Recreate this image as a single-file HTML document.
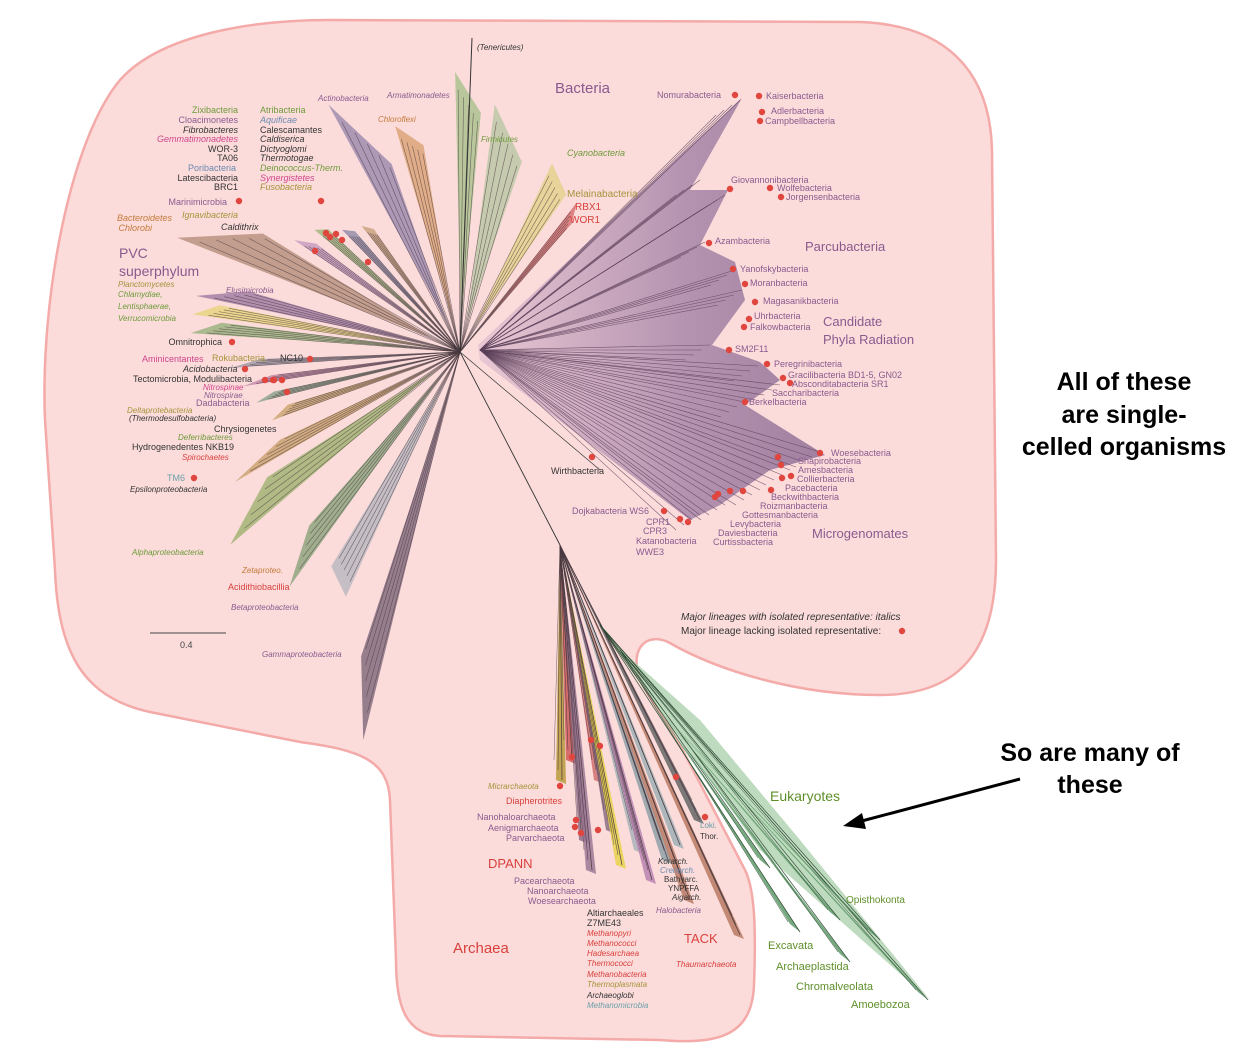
<!DOCTYPE html>
<html><head><meta charset="utf-8"><style>
html,body{margin:0;padding:0;background:#fff;}
svg text{font-family:"Liberation Sans",sans-serif;}
</style></head><body>
<svg id="tree" width="1248" height="1055" viewBox="0 0 1248 1055" xmlns="http://www.w3.org/2000/svg">
<defs>
<linearGradient id="cprGrad" x1="0" y1="0" x2="1" y2="0">
<stop offset="0" stop-color="#e8c6d3"/><stop offset="0.6" stop-color="#b08fae"/><stop offset="1" stop-color="#9c7b9c"/>
</linearGradient>
</defs>
<path d="M120,80 C160,35 250,20 330,20 L860,22 C945,25 990,70 992,150 L996,560 C996,650 960,695 880,695 C800,695 720,672 668,642 C645,632 632,650 638,672 C642,690 660,710 680,745 L745,870 C755,890 756,930 754,985 C752,1035 720,1045 660,1040 L440,1036 C405,1034 396,1005 396,960 L390,800 C388,760 360,750 300,742 L150,712 C85,698 58,655 55,570 L45,420 C40,300 70,140 120,80 Z" fill="#fbdcdb" stroke="#f3aaa8" stroke-width="2.5"/>
<g id="marks"></g>
<g id="labels"></g>
<g font-weight="bold" font-size="25" fill="#000" text-anchor="middle">
<text x="1124" y="390">All of these</text>
<text x="1124" y="423">are single-</text>
<text x="1124" y="455">celled organisms</text>
<text x="1090" y="761">So are many of</text>
<text x="1090" y="793">these</text>
</g>
<g>
<line x1="1020" y1="779" x2="858" y2="822" stroke="#000" stroke-width="3"/>
<polygon points="843,826 862,813 866,829" fill="#000"/>
</g>
<g>
<line x1="150" y1="633" x2="226" y2="633" stroke="#444" stroke-width="1"/>
<text x="180" y="648" font-size="9" fill="#444">0.4</text>
</g>
</svg>
<script>
const wedgeAngles1=[-118,-106,-91,-82,-64,-52,-158,-168,-172,-176,150,140,115,104,126,-146,-140,-134,-128,176,171,166,160];
const wedgeAngles2=[-110,-100,-85,-72,-56,-49,-149,-164,-169,-173,154,147,121,108,131,-143,-137,-131,-125,178,173,168,163];
const wedgeLen1=[280,235,280,250,210,190,305,270,270,270,260,300,270,400,290,200,190,170,160,230,220,210,200];
const wedgeLen2=[200,210,240,200,190,170,230,220,245,240,200,230,250,320,230,180,180,160,150,200,190,190,180];
const wedgeColors=["#9a87ac","#d9a173","#a9c08b","#b9c6a3","#e4d28a","#d66b6b","#b58f7a","#a07aa2","#e8d37a","#97b07a","#c9a06a","#9fb26f","#b8b8bf","#7e6679","#8aa37a","#c79ac0","#a0b57d","#8e89a8","#c7a07a","#9f99a5","#c184a8","#8aa08a","#c9a36d"];
const C=[460,352];
const g=document.getElementById('marks');
const NS="http://www.w3.org/2000/svg";
function pt(a,r){const t=a*Math.PI/180;return [C[0]+r*Math.cos(t),C[1]+r*Math.sin(t)];}
function poly(points,fill,name,op){
  const el=document.createElementNS(NS,'polygon');
  el.setAttribute('points',points.map(p=>p.join(',')).join(' '));
  el.setAttribute('fill',fill);el.setAttribute('opacity',op||'1');
  
  
  g.appendChild(el);
}
function line(x1,y1,x2,y2,c,w,op){
  const ln=document.createElementNS(NS,'line');
  ln.setAttribute('x1',x1);ln.setAttribute('y1',y1);ln.setAttribute('x2',x2);ln.setAttribute('y2',y2);
  ln.setAttribute('stroke',c);ln.setAttribute('stroke-width',w);
  if(op)ln.setAttribute('opacity',op);
  
  
  g.appendChild(ln);
}
for(let i=0;i<wedgeAngles1.length;i++){
  const p0=pt((wedgeAngles1[i]+wedgeAngles2[i])/2,30);
  const p1=pt(wedgeAngles1[i],wedgeLen1[i]);
  const p2=pt(wedgeAngles2[i],wedgeLen2[i]);
  poly([p0,p1,p2],wedgeColors[i],'clade-wedge',0.8);
  for(let k=0;k<5;k++){
    const a=wedgeAngles1[i]+(wedgeAngles2[i]-wedgeAngles1[i])*(k+0.5)/5;
    const r=wedgeLen1[i]+(wedgeLen2[i]-wedgeLen1[i])*(k+0.5)/5;
    const q=pt(a,r*0.95);
    line(C[0],C[1],q[0],q[1],'#4a3a40',0.6,0.7);
  }
}
const cprPoly=[[478,345],[742,98],[690,190],[728,190],[700,245],[735,262],[745,300],[712,345],[760,362],[780,380],[745,405],[825,455],[770,470],[720,505],[690,520],[480,360]];
poly(cprPoly,"url(#cprGrad)","cpr-fan",0.95);
const cprTips=[[740,100],[700,180],[725,195],[705,242],[735,270],[742,290],[710,345],[758,366],[780,385],[745,402],[820,452],[790,470],[760,490],[725,505],[700,515]];
cprTips.forEach(t=>{for(let k=0;k<4;k++){line(480,350,t[0]-k*8,t[1]+k*5,"#5a3e58",0.6,0.8);}});
line(460,352,472,38,"#333",1);
line(460,352,560,545,"#333",0.9);
line(460,352,600,470,"#333",0.7);
const archTips=[[562,780],[572,760],[585,840],[592,870],[600,780],[612,830],[622,865],[640,850],[652,880],[668,860],[680,845],[690,900],[700,820],[740,935]];
const archColors=["#b99a3a","#d05a5a","#8f6f8a","#9c7895","#d07070","#8b6e80","#e8d24a","#a9b3b8","#b883b0","#8fa0a8","#9fb0b5","#b87a65","#666","#b87a62"];
for(let i=0;i<archTips.length;i++){
  const t=archTips[i];
  poly([[560,545],[t[0]-6,t[1]],[t[0]+4,t[1]+4]],archColors[i],"archaea-clade",0.85);
  line(560,545,t[0],t[1],"#4a3a40",0.7);
  line(560,545,t[0]-4,t[1]-10,"#4a3a40",0.5);
  line(560,545,t[0]-8,t[1]-20,"#4a3a40",0.4);
}
poly([[610,640],[760,850],[930,1000],[800,840],[700,720]],"#a9cfa9","eukaryote-fan",0.75);
const eukTips=[[770,868],[800,932],[850,962],[928,1000],[880,940],[840,920]];
eukTips.forEach(t=>{poly([[650,700],[t[0]-10,t[1]-8],[t[0],t[1]]],"#5f9a6a","eukaryote-clade",0.85);line(600,625,t[0],t[1],"#2e4a34",0.7);line(620,650,t[0]-12,t[1]-10,"#2e4a34",0.5);});
const dotX=[735,759,762,760,730,770,781,709,733,745,755,749,744,729,767,783,790,745,820,778,781,791,782,771,743,730,718,715,664,680,688,592,239,321,326,336,330,342,315,368,232,245,310,273,265,274,282,287,194,560,572,576,581,575,598,591,600,676,705,902];
const dotY=[95,96,112,121,189,188,197,243,269,284,302,319,327,350,364,378,383,402,453,457,465,476,478,490,491,491,494,497,511,519,522,457,201,201,233,234,237,240,251,262,342,369,359,380,380,380,380,392,478,786,757,820,833,827,830,740,746,777,817,631];
for(let i=0;i<dotX.length;i++){
  const c=document.createElementNS(NS,'circle');
  c.setAttribute('cx',dotX[i]);c.setAttribute('cy',dotY[i]);c.setAttribute('r',3.2);c.setAttribute('fill','#e0453e');
  
  
  g.appendChild(c);
}
const P="#8a5a8e",R="#d9403c",O="#a6933a",D="#333",G="#6e9a3a",Or="#c47a3a",Pk="#d0458a",B="#6a8ab0",T="#6aa0a8",EU="#5f8f2a";
const labels=[
[238,113,"Zixibacteria",G,"",9,"end"],[238,123,"Cloacimonetes",P,"",9,"end"],[238,133,"Fibrobacteres",D,"i",9,"end"],[238,142,"Gemmatimonadetes",Pk,"i",9,"end"],[238,152,"WOR-3",D,"",9,"end"],[238,161,"TA06",D,"",9,"end"],[236,171,"Poribacteria",B,"",9,"end"],[238,181,"Latescibacteria",D,"",9,"end"],[238,190,"BRC1",D,"",9,"end"],
[260,113,"Atribacteria",G,"",9,""],[260,123,"Aquificae",B,"i",9,""],[260,133,"Calescamantes",D,"",9,""],[260,142,"Caldiserica",D,"i",9,""],[260,152,"Dictyoglomi",D,"i",9,""],[260,161,"Thermotogae",D,"i",9,""],[260,171,"Deinococcus-Therm.",G,"i",9,""],[260,181,"Synergistetes",Pk,"i",9,""],[260,190,"Fusobacteria",O,"i",9,""],
[227,205,"Marinimicrobia",P,"",9,"end"],[238,218,"Ignavibacteria",O,"i",9,"end"],[172,221,"Bacteroidetes",Or,"i",9,"end"],[152,231,"Chlorobi",Or,"i",9,"end"],[221,230,"Caldithrix",D,"i",9,""],
[119,258,"PVC",P,"",14,""],[119,276,"superphylum",P,"",14,""],
[118,287,"Planctomycetes",O,"i",8,""],[118,297,"Chlamydiae,",G,"i",8,""],[118,309,"Lentisphaerae,",G,"i",8,""],[118,321,"Verrucomicrobia",G,"i",8,""],[226,293,"Elusimicrobia",P,"i",8,""],
[222,345,"Omnitrophica",D,"",9,"end"],[142,362,"Aminicentantes",Pk,"",9,""],[212,361,"Rokubacteria",O,"",9,""],[280,361,"NC10",D,"",9,""],[183,372,"Acidobacteria",D,"i",9,""],[133,382,"Tectomicrobia, Modulibacteria",D,"",9,""],[203,390,"Nitrospinae",Pk,"i",8,""],[204,398,"Nitrospirae",P,"i",8,""],[196,406,"Dadabacteria",P,"",9,""],[127,413,"Deltaprotebacteria",O,"i",8,""],[129,421,"(Thermodesulfobacteria)",D,"i",8,""],[214,432,"Chrysiogenetes",D,"",9,""],[178,440,"Deferribacteres",G,"i",8,""],[132,450,"Hydrogenedentes NKB19",D,"",9,""],[182,460,"Spirochaetes",R,"i",8,""],[167,481,"TM6",T,"",9,""],[130,492,"Epsilonproteobacteria",D,"i",8,""],[132,555,"Alphaproteobacteria",G,"i",8,""],[242,573,"Zetaproteo.",Or,"i",8,""],[228,590,"Acidithiobacillia",R,"",9,""],[231,610,"Betaproteobacteria",P,"i",8,""],[262,657,"Gammaproteobacteria",P,"i",8,""],
[318,101,"Actinobacteria",P,"i",8,""],[387,98,"Armatimonadetes",P,"i",8,""],[378,122,"Chloroflexi",Or,"i",8,""],[477,50,"(Tenericutes)",D,"i",8,""],[481,142,"Firmicutes",G,"i",8,""],[555,93,"Bacteria",P,"",15,""],[567,156,"Cyanobacteria",G,"i",9,""],[567,197,"Melainabacteria",O,"",10,""],[575,210,"RBX1",R,"",10,""],[570,223,"WOR1",R,"",10,""],
[657,98,"Nomurabacteria",P,"",9,""],[766,99,"Kaiserbacteria",P,"",9,""],[771,114,"Adlerbacteria",P,"",9,""],[765,124,"Campbellbacteria",P,"",9,""],[731,183,"Giovannonibacteria",P,"",9,""],[777,191,"Wolfebacteria",P,"",9,""],[786,200,"Jorgensenbacteria",P,"",9,""],[715,244,"Azambacteria",P,"",9,""],[805,251,"Parcubacteria",P,"",13,""],[740,272,"Yanofskybacteria",P,"",9,""],[750,286,"Moranbacteria",P,"",9,""],[763,304,"Magasanikbacteria",P,"",9,""],[754,319,"Uhrbacteria",P,"",9,""],[750,330,"Falkowbacteria",P,"",9,""],[823,326,"Candidate",P,"",13,""],[823,344,"Phyla Radiation",P,"",13,""],[735,352,"SM2F11",P,"",9,""],[774,367,"Peregrinibacteria",P,"",9,""],[788,378,"Gracilibacteria BD1-5, GN02",P,"",9,""],[792,387,"Absconditabacteria SR1",P,"",9,""],[772,396,"Saccharibacteria",P,"",9,""],[749,405,"Berkelbacteria",P,"",9,""],
[831,456,"Woesebacteria",P,"",9,""],[798,464,"Shapirobacteria",P,"",9,""],[798,473,"Amesbacteria",P,"",9,""],[797,482,"Collierbacteria",P,"",9,""],[785,491,"Pacebacteria",P,"",9,""],[771,500,"Beckwithbacteria",P,"",9,""],[760,509,"Roizmanbacteria",P,"",9,""],[742,518,"Gottesmanbacteria",P,"",9,""],[730,527,"Levybacteria",P,"",9,""],[718,536,"Daviesbacteria",P,"",9,""],[713,545,"Curtissbacteria",P,"",9,""],[812,538,"Microgenomates",P,"",13,""],[551,474,"Wirthbacteria",D,"",9,""],[572,514,"Dojkabacteria WS6",P,"",9,""],[646,525,"CPR1",P,"",9,""],[643,534,"CPR3",P,"",9,""],[636,544,"Katanobacteria",P,"",9,""],[636,555,"WWE3",P,"",9,""],
[681,620,"Major lineages with isolated representative: italics",D,"i",10,""],[681,634,"Major lineage lacking isolated representative:",D,"",10,""],
[488,789,"Micrarchaeota",O,"i",8,""],[506,804,"Diapherotrites",R,"",9,""],[477,820,"Nanohaloarchaeota",P,"",9,""],[488,831,"Aenigmarchaeota",P,"",9,""],[506,841,"Parvarchaeota",P,"",9,""],[488,868,"DPANN",R,"",13,""],[514,884,"Pacearchaeota",P,"",9,""],[527,894,"Nanoarchaeota",P,"",9,""],[528,904,"Woesearchaeota",P,"",9,""],
[587,916,"Altiarchaeales",D,"",9,""],[587,926,"Z7ME43",D,"",9,""],[587,936,"Methanopyri",R,"i",8,""],[587,946,"Methanococci",R,"i",8,""],[587,956,"Hadesarchaea",R,"i",8,""],[587,966,"Thermococci",R,"i",8,""],[587,977,"Methanobacteria",R,"i",8,""],[587,987,"Thermoplasmata",O,"i",8,""],[587,998,"Archaeoglobi",D,"i",8,""],[587,1008,"Methanomicrobia",T,"i",8,""],[453,953,"Archaea",R,"",15,""],
[700,828,"Loki.",T,"",8,""],[700,839,"Thor.",D,"",8,""],[658,864,"Korarch.",D,"i",8,""],[660,873,"Crenarch.",B,"i",8,""],[664,882,"Bathyarc.",D,"",8,""],[668,891,"YNPFFA",D,"",8,""],[672,900,"Aigarch.",D,"i",8,""],[656,913,"Halobacteria",P,"i",8,""],[684,943,"TACK",R,"",13,""],[676,967,"Thaumarchaeota",R,"i",8,""],
[770,801,"Eukaryotes",EU,"",14,""],[846,903,"Opisthokonta",EU,"",10,""],[768,949,"Excavata",EU,"",11,""],[776,970,"Archaeplastida",EU,"",11,""],[796,990,"Chromalveolata",EU,"",11,""],[851,1008,"Amoebozoa",EU,"",11,""]
];
const lg=document.getElementById('labels');
labels.forEach(l=>{
  const t=document.createElementNS(NS,'text');
  t.setAttribute('x',l[0]);t.setAttribute('y',l[1]);t.setAttribute('fill',l[3]);
  t.setAttribute('font-size',l[5]);
  if(l[4]==="i")t.setAttribute('font-style','italic');
  if(l[6])t.setAttribute('text-anchor',l[6]);
  t.textContent=l[2];
  
  
  lg.appendChild(t);
});
</script>
</body></html>
